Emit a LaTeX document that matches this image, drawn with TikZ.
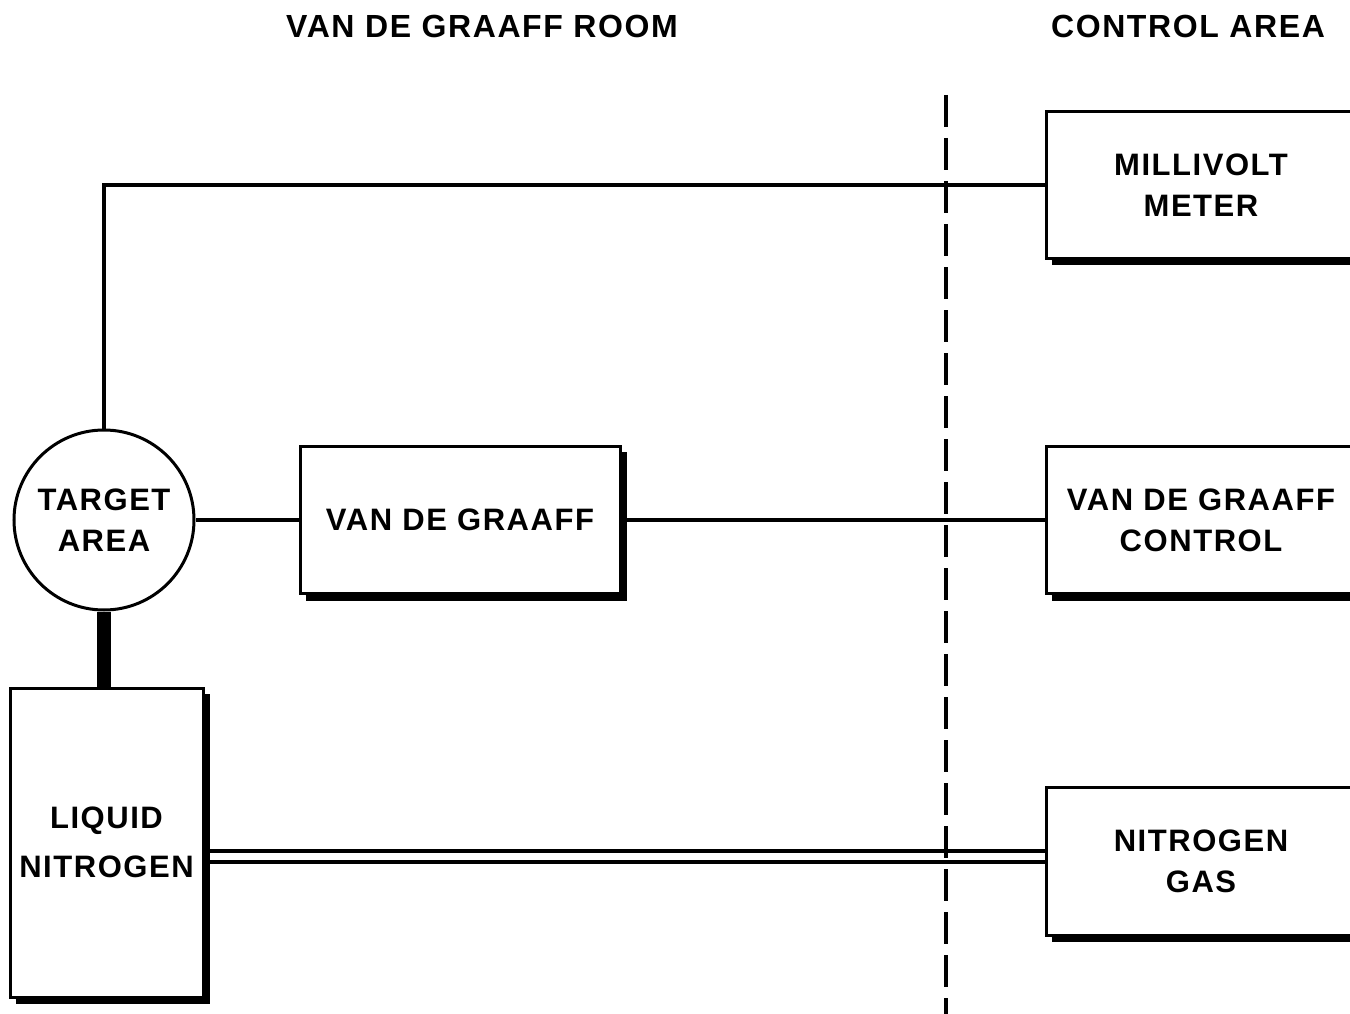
\documentclass[tikz,border=0pt]{standalone}
\usepackage{fontspec}
\setmainfont{Liberation Sans}
\newfontfamily\dfont{Liberation Sans Bold}[LetterSpace=5]
\usetikzlibrary{calc}
\tikzset{
  conn/.style={line width=3.6pt},
  boxst/.style={draw, line width=3pt, fill=white, inner sep=0pt, align=center,
    font=\dfont\fontsize{31}{41}\selectfont},
  shadowst/.style={line width=5.5pt},
  titlest/.style={font=\dfont\fontsize{32}{36}\selectfont, inner sep=0pt},
  divider/.style={line width=4pt, dash pattern=on 32pt off 11pt},
}
\newcommand\boxshadow[1]{\draw[shadowst] ($(#1.south west)+(7,3.2)$) -| ($(#1.north east)+(3.2,7)$);}
\begin{document}
\begin{tikzpicture}[x=1pt,y=-1pt]
\useasboundingbox (0,0) rectangle (1350,1014);
\clip (0,0) rectangle (1350,1014);

\node[titlest] (t1) at (482,26) {VAN DE GRAAFF ROOM};
\node[titlest] (t2) at (1188,26) {CONTROL AREA};

\coordinate (dtop) at (946,95);
\coordinate (dbot) at (946,1020);
\draw[divider] (dtop) -- (dbot);

% nodes
\node[boxst, circle, minimum size=180pt] (ta) at (104,520) {TARGET\\AREA};
\node[boxst, minimum width=320pt, minimum height=147pt] (vdg) at (460,520) {VAN DE GRAAFF};
\node[boxst, minimum width=310pt, minimum height=146pt] (mv) at (1201,185) {MILLIVOLT\\METER};
\node[boxst, minimum width=310pt, minimum height=147pt] (vdgc) at (1201,520) {VAN DE GRAAFF\\CONTROL};
\node[boxst, minimum width=310pt, minimum height=148pt] (ng) at (1201,861) {NITROGEN\\GAS};
\node[boxst, minimum width=193pt, minimum height=309pt] (ln) at (106.5,842.5) {LIQUID\\[8pt]NITROGEN};

\boxshadow{vdg}
\boxshadow{mv}
\boxshadow{vdgc}
\boxshadow{ng}
\boxshadow{ln}

% connectors
\draw[conn] (ta.north) |- (mv.west);
\draw[conn] (ta.east) -- (vdg.west);
\draw[conn] (vdg.east) -- (vdgc.west);
\draw[line width=14pt] (ta.south) -- (ta.south |- ln.north);
\coordinate (d1) at (0,851);
\coordinate (d2) at (0,862);
\draw[conn] (d1 -| ln.east) -- (d1 -| ng.west);
\draw[conn] (d2 -| ln.east) -- (d2 -| ng.west);
\end{tikzpicture}
\end{document}
